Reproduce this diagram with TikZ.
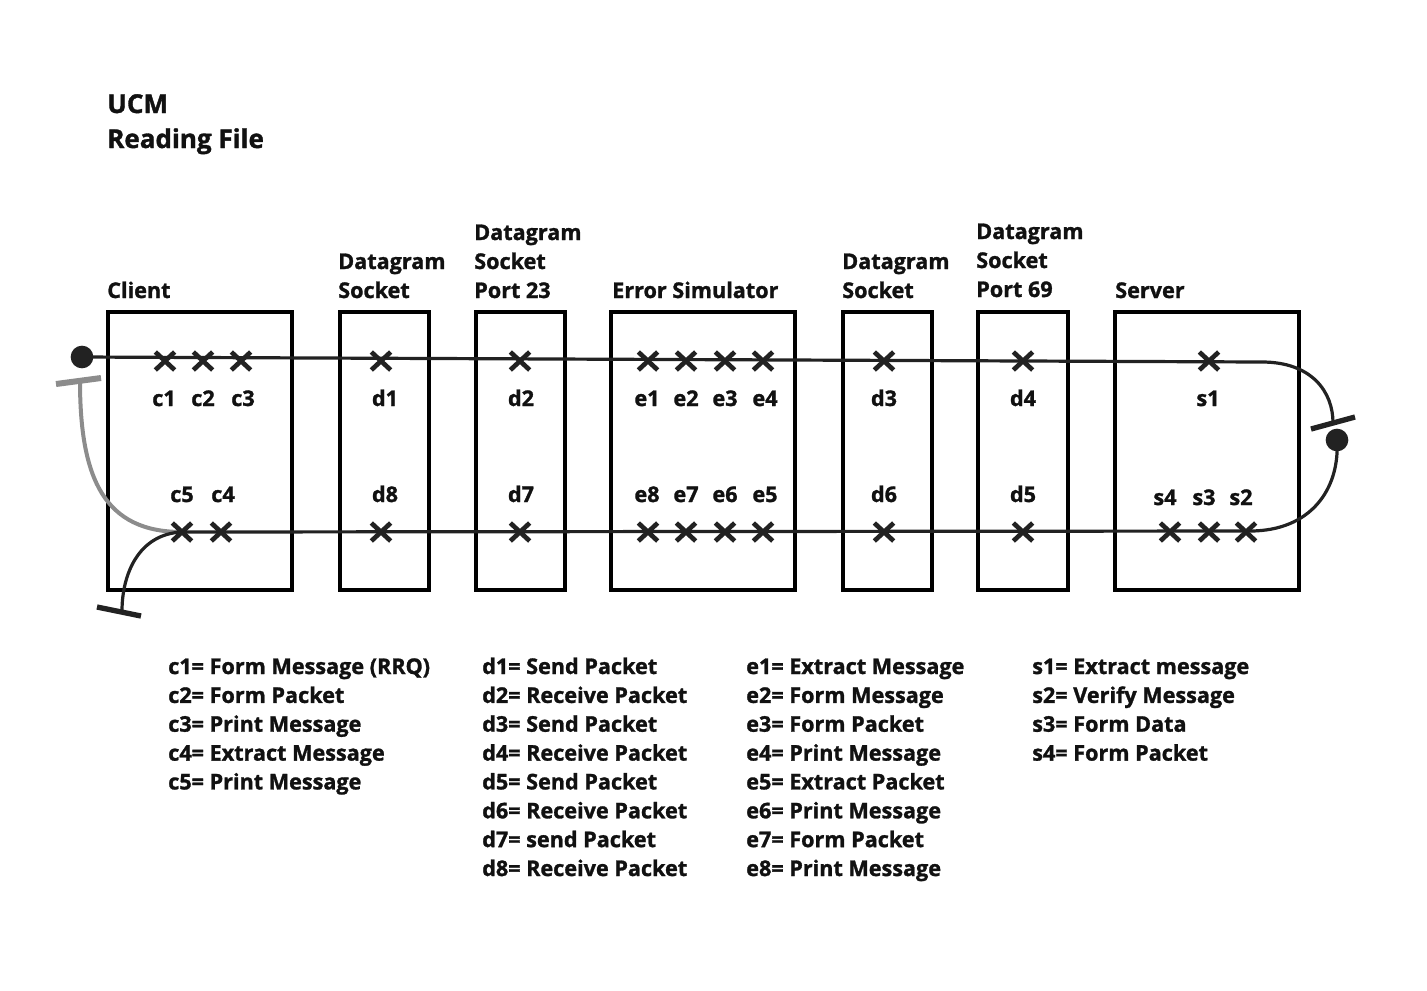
\documentclass[tikz,border=0pt]{standalone}
\usepackage{fontspec}
\setmainfont{Open Sans}[BoldFeatures={FakeBold=1.3}]
\usetikzlibrary{shapes.misc}
\definecolor{ink}{HTML}{111111}
\definecolor{pathc}{HTML}{222222}
\definecolor{greyc}{HTML}{8C8C8C}
\tikzset{
  box/.style={draw=black, line width=2.6pt, rectangle, inner sep=0pt, minimum height=208.5pt},
  xmark/.style={cross out, draw=pathc, line width=3.5pt, minimum width=11pt, minimum height=10pt, inner sep=0pt},
  lbl/.style={anchor=base, inner sep=0pt, text=ink, font=\fontsize{16.2}{20}\selectfont\bfseries},
  hdr/.style={anchor=base west, inner sep=0pt, text=ink, font=\fontsize{16.2}{20}\selectfont\bfseries},
  leg/.style={anchor=base west, inner sep=0pt, text=ink, font=\fontsize{16.2}{20}\selectfont\bfseries},
  ttl/.style={anchor=base west, inner sep=0pt, text=ink, font=\fontsize{19.5}{24}\selectfont\bfseries},
  ucmline/.style={draw=pathc, line width=2.4pt},
  greyline/.style={draw=greyc, line width=3pt},
  barb/.style={draw=pathc, line width=4pt},
  barg/.style={draw=greyc, line width=4.5pt},
  dotn/.style={circle, fill=pathc, inner sep=0pt, minimum size=17pt},
}
\begin{document}
\begin{tikzpicture}[x=0.75pt, y=-0.75pt]
\useasboundingbox (0,0) rectangle (1427,990);
% title
\node[ttl] (t1) at (107,113) {UCM};
\node[ttl] (t2) at (107,148) {Reading File};
% boxes
\node[box, minimum width=138pt] (client) at (200,451) {};
\node[box, minimum width=66.75pt] (dsa) at (384.5,451) {};
\node[box, minimum width=66.75pt] (dsb) at (520.5,451) {};
\node[box, minimum width=138pt] (err) at (703,451) {};
\node[box, minimum width=66.75pt] (dsc) at (887.5,451) {};
\node[box, minimum width=67.5pt] (dsd) at (1023,451) {};
\node[box, minimum width=138pt] (server) at (1207,451) {};
% headers
\node[hdr] (h1) at (107,298) {Client};
\node[hdr] (h2a) at (338,269) {Datagram};
\node[hdr] (h2b) at (338,298) {Socket};
\node[hdr] (h3a) at (474,240) {Datagram};
\node[hdr] (h3b) at (474,269) {Socket};
\node[hdr] (h3c) at (474,298) {Port 23};
\node[hdr] (h4) at (612,298) {Error Simulator};
\node[hdr] (h5a) at (842,269) {Datagram};
\node[hdr] (h5b) at (842,298) {Socket};
\node[hdr] (h6a) at (976,239) {Datagram};
\node[hdr] (h6b) at (976,268) {Socket};
\node[hdr] (h6c) at (976,297) {Port 69};
\node[hdr] (h7) at (1115,298) {Server};
% start / end points
\node[dotn] (start) at (82,357) {};
\node[dotn] (rdot) at (1337,440) {};
\coordinate (rbar1) at (1311,429);
\coordinate (rbar2) at (1355,417);
\coordinate (rbarc) at (1333,423);
\coordinate (gbar1) at (56,384);
\coordinate (gbar2) at (101,378);
\coordinate (gbarc) at (80,381);
\coordinate (bbar1) at (97,607);
\coordinate (bbar2) at (141,616);
\coordinate (bbarc) at (122,611);
\coordinate (rtop) at (1262,362);
\coordinate (rbot) at (1250,531);
% paths
\draw[ucmline] (start.center) -- (rtop) .. controls (1312,362) and (1333,392) .. (rbarc);
\draw[ucmline] (rdot.center) .. controls (1340,490) and (1310,531) .. (rbot) -- (182,532);
\draw[greyline] (182,532) .. controls (105,532) and (80,480) .. (gbarc);
\draw[ucmline] (182,532) .. controls (138,534) and (122,575) .. (bbarc);
\draw[barb] (rbar1) -- (rbar2);
\draw[barg] (gbar1) -- (gbar2);
\draw[barb] (bbar1) -- (bbar2);
% crosses top
\foreach \n/\x in {c1/165,c2/203,c3/241,d1/381,d2/520,e1/648,e2/686,e3/725,e4/763,d3/884,d4/1023,s1/1209}
  \node[xmark] (x\n) at (\x,361) {};
% crosses bottom
\foreach \n/\x in {c5/182,c4/221,d8/381,d7/520,e8/648,e7/686,e6/725,e5/763,d6/884,d5/1023,s4/1170,s3/1209,s2/1246}
  \node[xmark] (x\n) at (\x,532) {};
% labels top
\foreach \n/\x in {c1/164,c2/203,c3/243,d1/385,d2/521,e1/647,e2/686,e3/725,e4/765,d3/884,d4/1023,s1/1208}
  \node[lbl] (l\n) at (\x,406) {\n};
% labels bottom
\foreach \n/\x in {c5/182,c4/223,d8/385,d7/521,e8/647,e7/686,e6/725,e5/765,d6/884,d5/1023}
  \node[lbl] (l\n) at (\x,502) {\n};
\foreach \n/\x in {s4/1165,s3/1204,s2/1241}
  \node[lbl] (l\n) at (\x,505) {\n};
% legend
\node[leg] (lc1) at (168,674.0) {c1= Form Message (RRQ)};
\node[leg] (lc2) at (168,702.9) {c2= Form Packet};
\node[leg] (lc3) at (168,731.7) {c3= Print Message};
\node[leg] (lc4) at (168,760.6) {c4= Extract Message};
\node[leg] (lc5) at (168,789.4) {c5= Print Message};
\node[leg] (ld1) at (482,674.0) {d1= Send Packet};
\node[leg] (ld2) at (482,702.9) {d2= Receive Packet};
\node[leg] (ld3) at (482,731.7) {d3= Send Packet};
\node[leg] (ld4) at (482,760.6) {d4= Receive Packet};
\node[leg] (ld5) at (482,789.4) {d5= Send Packet};
\node[leg] (ld6) at (482,818.3) {d6= Receive Packet};
\node[leg] (ld7) at (482,847.1) {d7= send Packet};
\node[leg] (ld8) at (482,876.0) {d8= Receive Packet};
\node[leg] (le1) at (746,674.0) {e1= Extract Message};
\node[leg] (le2) at (746,702.9) {e2= Form Message};
\node[leg] (le3) at (746,731.7) {e3= Form Packet};
\node[leg] (le4) at (746,760.6) {e4= Print Message};
\node[leg] (le5) at (746,789.4) {e5= Extract Packet};
\node[leg] (le6) at (746,818.3) {e6= Print Message};
\node[leg] (le7) at (746,847.1) {e7= Form Packet};
\node[leg] (le8) at (746,876.0) {e8= Print Message};
\node[leg] (ls1) at (1032,674.0) {s1= Extract message};
\node[leg] (ls2) at (1032,702.9) {s2= Verify Message};
\node[leg] (ls3) at (1032,731.7) {s3= Form Data};
\node[leg] (ls4) at (1032,760.6) {s4= Form Packet};
\end{tikzpicture}
\end{document}
